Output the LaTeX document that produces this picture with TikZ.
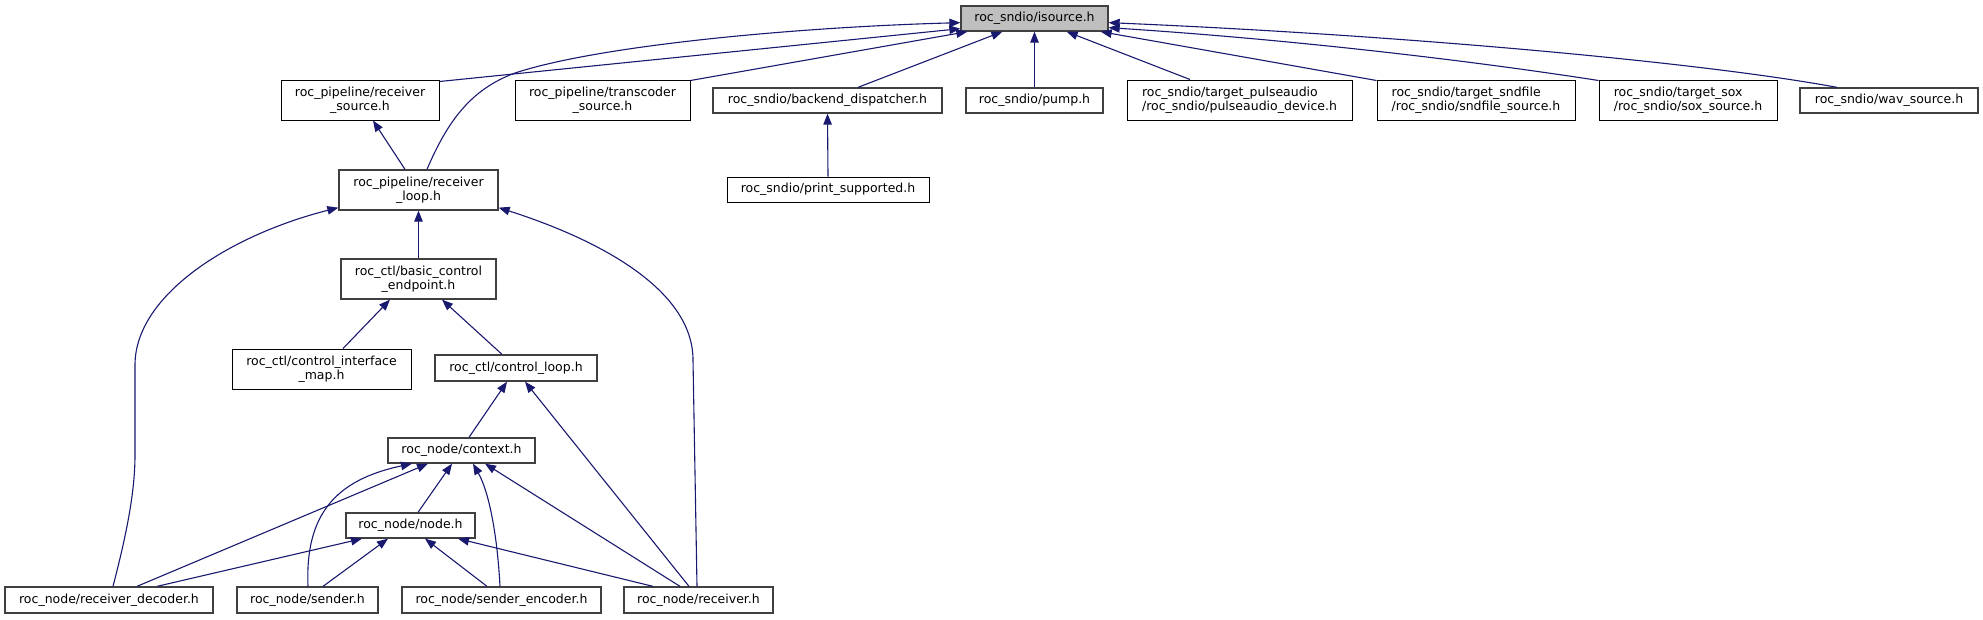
\documentclass[tikz,border=0pt]{standalone}
\usepackage{fontspec}
\setmainfont{DejaVu Sans}
\usetikzlibrary{arrows.meta}
\definecolor{edgeblue}{HTML}{191970}
\definecolor{gborder}{HTML}{404040}
\definecolor{gfill}{HTML}{BFBFBF}
\tikzset{
  box/.style={draw=black, line width=1pt, fill=white, inner sep=0pt, align=center,
    font=\fontsize{12.5}{14}\selectfont},
  gbox/.style={box, draw=gborder, line width=1.3pt},
  dep/.style={draw=edgeblue, line width=1.1pt, -{Triangle[length=11pt,width=8.5pt]}, fill=none},
}
\begin{document}
\begin{tikzpicture}[x=1pt,y=-1pt]
\useasboundingbox (0,0) rectangle (1983,619);
% row 0
\node[gbox, fill=gfill, minimum width=147, minimum height=25] (is) at (1034.5,18.5) {roc\_sndio/isource.h};
% row 1
\node[box, minimum width=158, minimum height=40] (rs) at (360,100) {roc\_pipeline/receiver\\\_source.h};
\node[box, minimum width=175, minimum height=40] (tc) at (602.5,100) {roc\_pipeline/transcoder\\\_source.h};
\node[gbox, minimum width=229, minimum height=25] (bd) at (827.5,100.5) {roc\_sndio/backend\_dispatcher.h};
\node[gbox, minimum width=137, minimum height=25] (pu) at (1034.5,100.5) {roc\_sndio/pump.h};
\node[box, align=left, minimum width=225, minimum height=40] (pa) at (1239.5,100) {roc\_sndio/target\_pulseaudio\\/roc\_sndio/pulseaudio\_device.h};
\node[box, align=left, minimum width=198, minimum height=40] (sf) at (1476,100) {roc\_sndio/target\_sndfile\\/roc\_sndio/sndfile\_source.h};
\node[box, align=left, minimum width=178, minimum height=40] (sx) at (1688,100) {roc\_sndio/target\_sox\\/roc\_sndio/sox\_source.h};
\node[gbox, minimum width=178, minimum height=25] (wv) at (1889,100.5) {roc\_sndio/wav\_source.h};
% row 2
\node[gbox, minimum width=159, minimum height=40] (rl) at (418.5,190) {roc\_pipeline/receiver\\\_loop.h};
\node[box, minimum width=202, minimum height=25] (ps) at (828,189.5) {roc\_sndio/print\_supported.h};
% row 3
\node[gbox, minimum width=155, minimum height=40] (bc) at (418.5,279) {roc\_ctl/basic\_control\\\_endpoint.h};
% row 4
\node[box, minimum width=179, minimum height=40] (cim) at (321.5,369) {roc\_ctl/control\_interface\\\_map.h};
\node[gbox, minimum width=162, minimum height=26] (cl) at (516,368) {roc\_ctl/control\_loop.h};
% row 5
\node[gbox, minimum width=147, minimum height=25] (ctx) at (461.5,450.5) {roc\_node/context.h};
% row 6
\node[gbox, minimum width=129, minimum height=25] (nd) at (410.5,525.5) {roc\_node/node.h};
% row 7
\node[gbox, minimum width=208, minimum height=26] (rd) at (109,600) {roc\_node/receiver\_decoder.h};
\node[gbox, minimum width=141, minimum height=26] (sn) at (307.5,600) {roc\_node/sender.h};
\node[gbox, minimum width=199, minimum height=26] (se) at (501.5,600) {roc\_node/sender\_encoder.h};
\node[gbox, minimum width=149, minimum height=26] (rc) at (698.5,600) {roc\_node/receiver.h};

% edges to isource
\draw[dep] ([yshift=-2pt]rs.north east) -- ([yshift=3pt]is.south west);
\draw[dep] ([yshift=-1pt]tc.north east) -- ([xshift=7pt]is.south west);
\draw[dep] ([xshift=30.5pt]bd.north) -- ([xshift=42pt]is.south west);
\draw[dep] (pu.north) -- (is.south);
\draw[dep] ([xshift=-49.5pt]pa.north) -- ([xshift=-42pt]is.south east);
\draw[dep] ([yshift=-1pt]sf.north west) -- ([xshift=-8pt]is.south east);
\draw[dep] ([yshift=-1pt]sx.north west) .. controls (1480,62) and (1300,40) .. ([yshift=4pt]is.south east);
\draw[dep] ([xshift=-52pt]wv.north) .. controls (1700,62) and (1400,35) .. ([yshift=9pt]is.south east);
\draw[dep] ([xshift=8.5pt]rl.north) .. controls (450,115) and (475,88) .. (515,73)
  .. controls (600,45) and (800,27) .. ([yshift=9pt]is.south west);
% other edges
\draw[dep] ([xshift=-13.5pt]rl.north) -- ([xshift=13pt]rs.south);
\draw[dep] (ps.north) -- (bd.south);
\draw[dep] (bc.north) -- (rl.south);
\draw[dep] ([xshift=4pt]rd.north) .. controls (125,540) and (135,495) .. (135,455) -- (135,365)
  .. controls (135,295) and (230,235) .. ([yshift=3pt]rl.south west);
\draw[dep] ([xshift=-1.5pt]rc.north) -- (693,360) .. controls (693,290) and (600,240) .. ([yshift=3pt]rl.south east);
\draw[dep] ([xshift=21.5pt]cim.north) -- ([xshift=-28.5pt]bc.south);
\draw[dep] ([xshift=-14pt]cl.north) -- ([xshift=23.5pt]bc.south);
\draw[dep] ([xshift=7.5pt]ctx.north) -- ([xshift=-9pt]cl.south);
\draw[dep] ([xshift=-9.5pt]rc.north) -- ([xshift=9pt]cl.south);
\draw[dep] ([xshift=7.5pt]nd.north) -- ([xshift=-9.5pt]ctx.south);
\draw[dep] ([xshift=28pt]rd.north) -- ([xshift=-33.5pt]ctx.south);
\draw[dep] ([xshift=0.5pt]sn.north) .. controls (305,515) and (335,480) .. ([xshift=-49.5pt]ctx.south);
\draw[dep] ([xshift=-1.5pt]se.north) .. controls (497,530) and (488,490) .. ([xshift=11.5pt]ctx.south);
\draw[dep] ([xshift=-18.5pt]rc.north) -- ([xshift=23.5pt]ctx.south);
\draw[dep] ([xshift=48pt]rd.north) -- ([xshift=-48.5pt]nd.south);
\draw[dep] ([xshift=15.5pt]sn.north) -- ([xshift=-22.5pt]nd.south);
\draw[dep] ([xshift=-14.5pt]se.north) -- ([xshift=14.5pt]nd.south);
\draw[dep] ([xshift=-45.5pt]rc.north) -- ([xshift=47.5pt]nd.south);
\end{tikzpicture}
\end{document}
